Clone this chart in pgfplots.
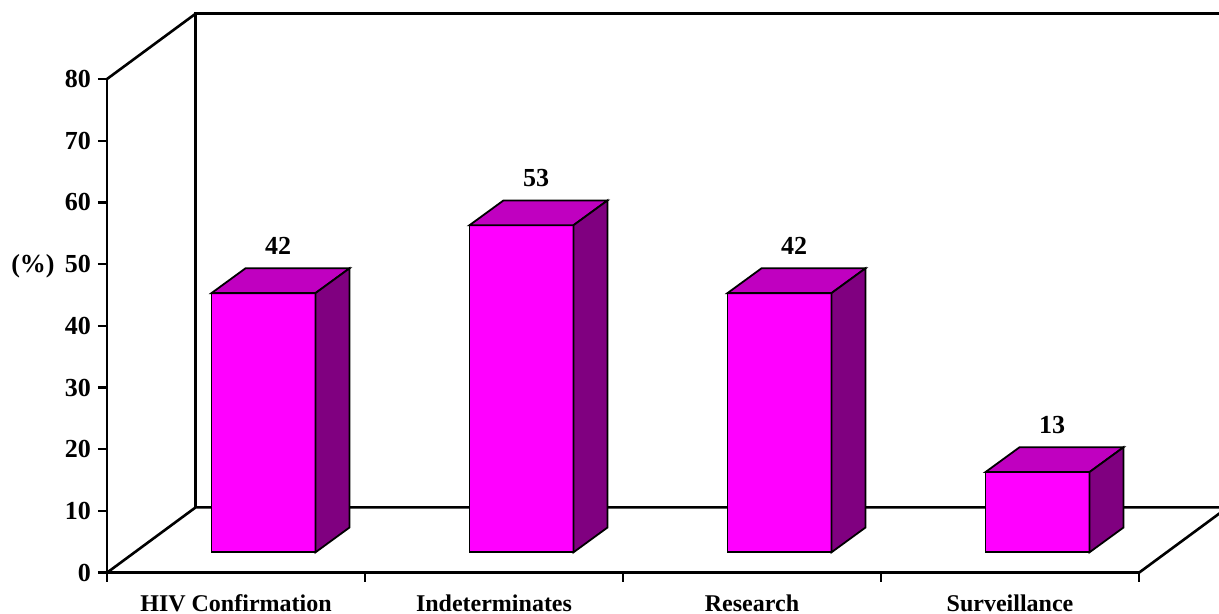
\documentclass[border=0pt]{standalone}
\usepackage{fontspec}
\setmainfont{Liberation Serif}
\usepackage{pgfplots}
\usepackage{pgfplotstable}
\pgfplotsset{compat=1.18}

\definecolor{barfront}{RGB}{255,0,255}
\definecolor{bartop}{RGB}{192,0,192}
\definecolor{barside}{RGB}{128,0,128}

% an empty mark: the boxes are drawn by the scatter hooks
\pgfdeclareplotmark{nothing}{}

% share (%) for each use of the test; cat = category centre
\pgfplotstableread{
cat v
0.5 42
1.5 53
2.5 42
3.5 13
}\shares

\newcommand{\lbl}{\fontsize{12}{14}\selectfont\bfseries}
\newcommand{\num}{\fontsize{13}{15}\selectfont\bfseries}

\begin{document}
\begin{tikzpicture}
\begin{axis}[
  at={(0,0)}, anchor=south west,
  scale only axis, width=516pt, height=246.85pt,
  xmin=0, xmax=4, ymin=0, ymax=80,
  axis x line=bottom, axis y line=left,
  axis line style={-, line width=1.3pt},
  tick align=outside, major tick length=4.5pt,
  tick style={line width=1.2pt, black},
  xtick={0,1,2,3,4}, xticklabels={},
  extra x ticks={0.5,1.5,2.5,3.5},
  extra x tick labels={HIV Confirmation,Indeterminates,Research,Surveillance},
  extra x tick style={major tick length=0pt,
    tick label style={anchor=base, yshift=-19.4pt, inner sep=0pt, font=\lbl}},
  ytick={0,10,...,80},
  yticklabel style={font=\num},
  /pgf/number format/assume math mode=true,
  clip=false,
]
% floor and back wall (depth vector: 0.3434 category, 10.58 %)
\draw[line width=1.3pt] (axis cs:0.3434,10.58) -- (axis cs:0.3434,90.58) -- (axis cs:4.6,90.58);
\draw[line width=1.3pt] (axis cs:0,80) -- (axis cs:0.3434,90.58);
\draw[line width=1.3pt] (axis cs:0,0) -- (axis cs:0.3434,10.58) -- (axis cs:4.6,10.58);
\draw[line width=1.3pt] (axis cs:4,0) -- (axis cs:4.3434,10.58);

% 3-D columns, one box per row of the table (units inside: 1 = 0.5pt)
\addplot[
  scatter, only marks, mark=nothing,
  point meta=\thisrow{v},
  visualization depends on={\thisrow{v}\as\barval},
  scatter/@pre marker code/.code={%
    \begin{scope}[x=0.5pt, y=0.5pt, line width=0.9pt, line join=miter]
      \pgfmathsetmacro\hf{20.4+\barval*6.171}
      \pgfmathsetmacro\hb{45.2+\barval*6.171}
      \filldraw[fill=barfront] (-24.5,20.4) rectangle (79.5,\hf);
      \filldraw[fill=bartop] (-24.5,\hf) -- (79.5,\hf) -- (113.5,\hb) -- (9.5,\hb) -- cycle;
      \filldraw[fill=barside] (79.5,20.4) -- (113.5,45.2) -- (113.5,\hb) -- (79.5,\hf) -- cycle;
      \node[font=\num] at (42,\hf+47) {\pgfmathprintnumber[fixed,precision=0]{\barval}};
    \end{scope}
  },
  scatter/@post marker code/.code={},
] table[x=cat, y expr=0] {\shares};

\node[font=\num] at (axis cs:0,49.6) [xshift=-37pt] {(\%)};
\end{axis}
\pgfresetboundingbox
\path[use as bounding box] (-53.5pt,-20.65pt) rectangle (556pt,286.35pt);
\end{tikzpicture}
\end{document}
